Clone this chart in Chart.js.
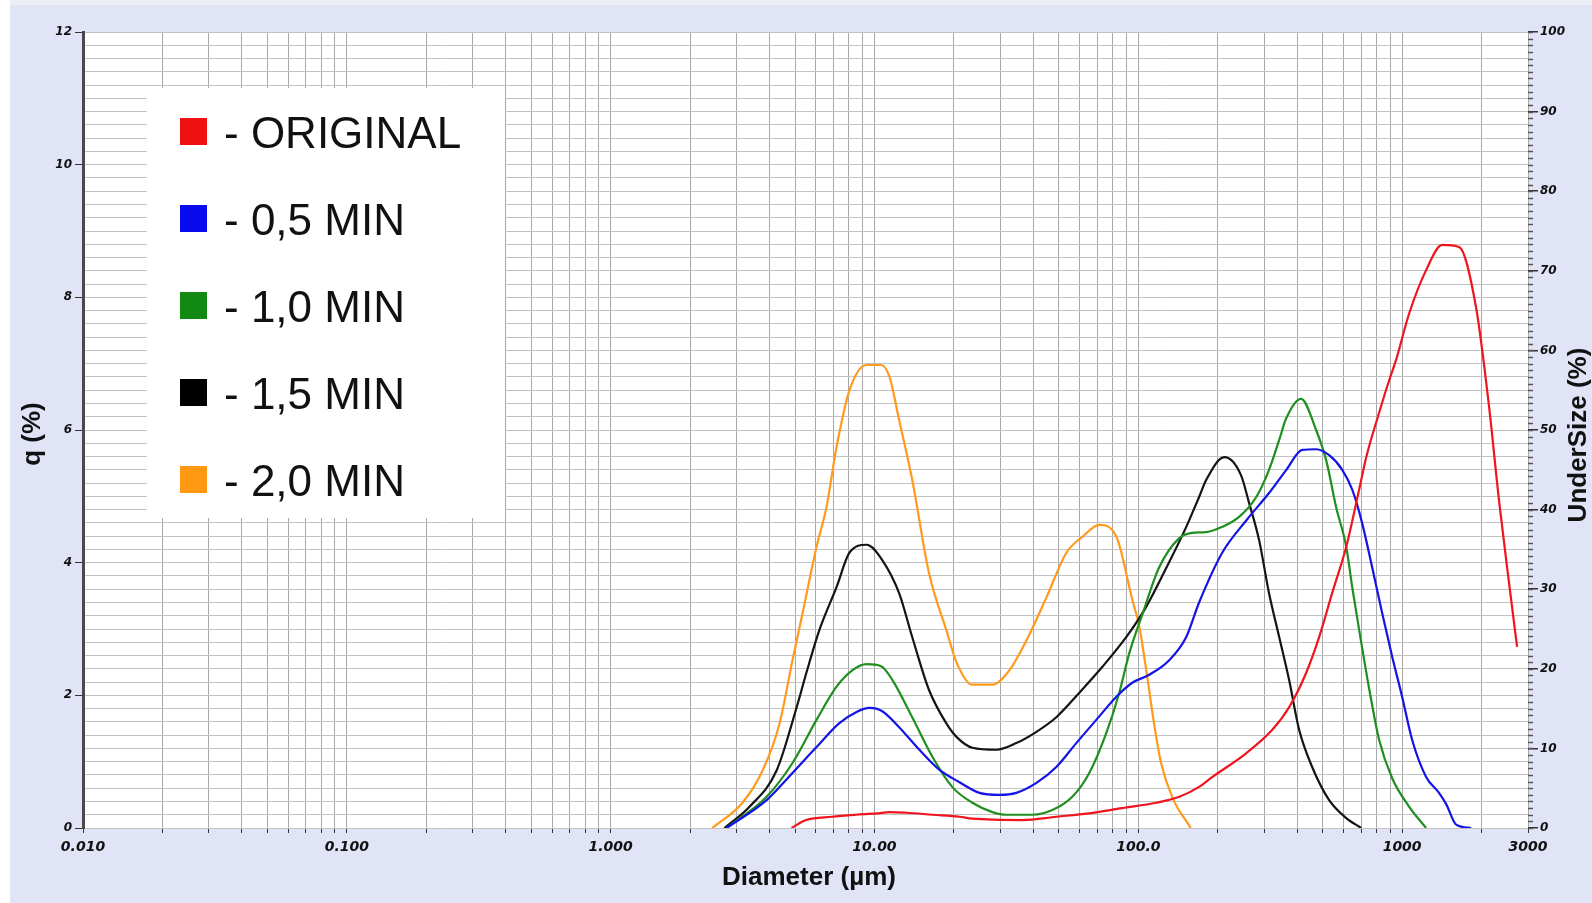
<!DOCTYPE html>
<html>
<head>
<meta charset="utf-8">
<title>Particle size distribution</title>
<script src="https://cdn.jsdelivr.net/npm/chart.js@4.4.1/dist/chart.umd.min.js"></script>
<style>
  html, body { margin: 0; padding: 0; background: #ffffff; }
  canvas { display: block; }
</style>
</head>
<body>
<canvas id="psd" width="1592" height="903"></canvas>
<script>
// Diameter (µm) / q (%) pairs for every milling time
const originalD = [4.85, 5.5, 6.9, 8.5, 10.2, 11.4, 13.2, 16.6, 21.0, 23.5, 36.4, 48.9, 65, 86.8, 117, 143, 170, 191, 257, 322, 373, 433, 485, 543, 614, 687, 731, 818, 893, 949, 1064, 1233, 1419, 1644, 1906, 2136, 2329, 2543, 2728];
const originalQ = [0, 0.12, 0.17, 0.20, 0.22, 0.24, 0.23, 0.20, 0.17, 0.14, 0.12, 0.17, 0.22, 0.30, 0.38, 0.47, 0.62, 0.77, 1.13, 1.48, 1.82, 2.34, 2.88, 3.54, 4.24, 5.10, 5.59, 6.26, 6.75, 7.06, 7.76, 8.41, 8.79, 8.76, 7.85, 6.35, 4.94, 3.69, 2.73];

const min05D = [2.75, 3.9, 4.89, 6.03, 7.36, 8.55, 9.58, 10.7, 12.4, 14.8, 17.6, 21.0, 25.0, 29.7, 34.5, 41.1, 48.9, 58.2, 69.3, 82.6, 94.9, 110, 131, 152, 170, 208, 257, 313, 364, 418, 472, 529, 593, 647, 705, 770, 840, 917, 1000, 1091, 1233, 1380, 1469, 1603, 1828];
const min05Q = [0, 0.42, 0.83, 1.22, 1.58, 1.75, 1.81, 1.76, 1.52, 1.18, 0.88, 0.69, 0.53, 0.50, 0.53, 0.68, 0.92, 1.28, 1.63, 1.98, 2.19, 2.31, 2.53, 2.88, 3.40, 4.15, 4.64, 5.05, 5.40, 5.70, 5.71, 5.62, 5.40, 5.10, 4.60, 3.93, 3.24, 2.58, 1.98, 1.33, 0.77, 0.53, 0.36, 0.05, 0];

const min10D = [2.75, 3.9, 4.89, 6.03, 7.18, 8.26, 9.33, 10.6, 11.7, 13.9, 16.6, 19.7, 23.5, 28.0, 31.6, 39.7, 47.2, 56.2, 65.2, 75.6, 84.7, 92.5, 104, 120, 143, 160, 181, 208, 241, 280, 313, 342, 364, 414, 472, 515, 562, 614, 647, 687, 750, 818, 917, 1064, 1233];
const min10Q = [0, 0.47, 0.98, 1.63, 2.13, 2.38, 2.47, 2.44, 2.23, 1.67, 1.07, 0.62, 0.38, 0.24, 0.20, 0.20, 0.27, 0.47, 0.83, 1.43, 2.04, 2.64, 3.24, 3.93, 4.37, 4.45, 4.46, 4.54, 4.69, 4.99, 5.40, 5.85, 6.18, 6.47, 6.00, 5.55, 4.84, 4.24, 3.63, 2.99, 2.10, 1.33, 0.75, 0.32, 0];

const min15D = [2.70, 3.36, 4.26, 5.07, 5.52, 6.19, 7.18, 8.04, 9.33, 10.7, 12.4, 13.9, 16.1, 18.7, 20.5, 23.5, 29.0, 34.5, 41.1, 48.9, 59.8, 73.1, 90.1, 107, 128, 152, 170, 181, 212, 245, 263, 287, 313, 342, 373, 407, 456, 529, 614, 700];
const min15Q = [0, 0.32, 0.87, 1.82, 2.34, 2.99, 3.63, 4.15, 4.27, 4.04, 3.54, 2.88, 2.08, 1.58, 1.37, 1.21, 1.18, 1.28, 1.45, 1.67, 2.04, 2.43, 2.88, 3.33, 3.93, 4.54, 4.99, 5.25, 5.59, 5.32, 4.90, 4.34, 3.54, 2.88, 2.23, 1.48, 0.92, 0.42, 0.15, 0];

const min20D = [2.43, 3.16, 3.77, 4.37, 4.89, 5.34, 6.03, 6.58, 7.18, 8.04, 9.33, 10.6, 11.4, 12.4, 13.9, 16.1, 18.7, 20.5, 23.5, 28.0, 32.5, 37.7, 44.9, 53.4, 61.4, 71.2, 82.6, 94.9, 101, 107, 115, 122, 135, 158];
const min20Q = [0, 0.38, 0.87, 1.58, 2.53, 3.24, 4.24, 4.84, 5.74, 6.60, 6.98, 6.98, 6.80, 6.15, 5.25, 3.84, 2.99, 2.49, 2.16, 2.16, 2.38, 2.83, 3.48, 4.15, 4.39, 4.57, 4.39, 3.44, 3.03, 2.40, 1.55, 0.98, 0.45, 0];

const seriesLabels = ['ORIGINAL', '0,5 MIN', '1,0 MIN', '1,5 MIN', '2,0 MIN'];
const lineColors = ['#f0141e', '#1414e6', '#1f8f1f', '#141414', '#ff9a1e'];
const legendColors = ['#ee1111', '#0a0aee', '#118811', '#000000', '#ff9911'];

// labelled diameters on the log axis
const xLabelValues = [0.01, 0.1, 1, 10, 100, 1000, 3000];
const xLabelTexts = ['0.010', '0.100', '1.000', '10.00', '100.0', '1000', '3000'];

const seriesD = [originalD, min05D, min10D, min15D, min20D];
const seriesQ = [originalQ, min05Q, min10Q, min15Q, min20Q];

// 1..9 x 10^n grid from 0.01 up to 3000
const logGrid = [];
for (let e = -2; e <= 3; e++) {
  for (let m = 1; m <= 9; m++) {
    const v = parseFloat((m * Math.pow(10, e)).toPrecision(3));
    if (v <= 3000) logGrid.push(v);
  }
}

const TICK_FONT = { family: '"DejaVu Sans", Verdana, sans-serif', weight: 'bold', style: 'italic' };

const isEven = (v) => Math.abs(v / 2 - Math.round(v / 2)) < 1e-6;

const backgroundPlugin = {
  id: 'panelBackground',
  beforeDraw(chart) {
    const { ctx, chartArea, width, height } = chart;
    ctx.save();
    ctx.fillStyle = '#ffffff';
    ctx.fillRect(0, 0, width, height);
    ctx.fillStyle = '#eceef5';
    ctx.fillRect(10, 0, width - 10, 5);
    ctx.fillStyle = '#e1e3f6';
    ctx.fillRect(10, 5, width - 10, height - 5);
    ctx.fillStyle = '#ffffff';
    ctx.fillRect(chartArea.left, chartArea.top, chartArea.right - chartArea.left, chartArea.bottom - chartArea.top);
    ctx.restore();
  }
};

const decorPlugin = {
  id: 'decor',
  afterDraw(chart) {
    const { ctx, chartArea } = chart;
    const y2 = chart.scales.y2;
    ctx.save();

    // minor ticks on the UnderSize axis
    ctx.strokeStyle = '#555555';
    ctx.lineWidth = 1.5;
    for (let i = 0; i <= 120; i++) {
      const py = Math.round(y2.getPixelForValue(i * 100 / 120)) + 0.5;
      ctx.beginPath();
      ctx.moveTo(chartArea.right, py);
      ctx.lineTo(chartArea.right + 5, py);
      ctx.stroke();
    }

    // axis titles
    ctx.fillStyle = '#111111';
    ctx.font = 'bold 26px "Liberation Sans", Arial, sans-serif';
    ctx.textAlign = 'center';
    ctx.textBaseline = 'middle';
    ctx.fillText('Diameter (µm)', 809, 878);

    ctx.save();
    ctx.translate(33, 434);
    ctx.rotate(-Math.PI / 2);
    ctx.fillText('q (%)', 0, 0);
    ctx.restore();

    ctx.save();
    ctx.translate(1579, 435);
    ctx.rotate(-Math.PI / 2);
    ctx.fillText('UnderSize (%)', 0, 0);
    ctx.restore();

    // legend panel
    ctx.fillStyle = '#ffffff';
    ctx.fillRect(147, 88, 358, 430);
    ctx.textAlign = 'left';
    ctx.textBaseline = 'alphabetic';
    ctx.font = '44px "Liberation Sans", Arial, sans-serif';
    seriesLabels.forEach((label, i) => {
      const top = 118 + i * 87;
      ctx.fillStyle = legendColors[i];
      ctx.fillRect(180, top, 27, 27);
      ctx.fillStyle = '#111111';
      ctx.fillText('- ' + label, 224, top + 30);
    });
    ctx.restore();
  }
};

const datasets = seriesLabels.map((label, i) => ({
  label: label,
  data: seriesD[i].map((d, k) => ({ x: d, y: seriesQ[i][k] })),
  borderColor: lineColors[i],
  borderWidth: 2.2,
  pointRadius: 0,
  fill: false,
  cubicInterpolationMode: 'monotone',
  yAxisID: 'y'
}));

new Chart(document.getElementById('psd').getContext('2d'), {
  type: 'line',
  data: { datasets: datasets },
  plugins: [backgroundPlugin, decorPlugin],
  options: {
    responsive: false,
    animation: false,
    layout: { padding: { top: 32, left: 0, right: 0, bottom: 0 } },
    plugins: {
      legend: { display: false },
      tooltip: { enabled: false }
    },
    scales: {
      x: {
        type: 'logarithmic',
        min: 0.01,
        max: 3000,
        afterBuildTicks: (scale) => { scale.ticks = logGrid.map(v => ({ value: v })); },
        afterFit: (scale) => { scale.height = 75; },
        ticks: {
          autoSkip: false,
          maxRotation: 0,
          minRotation: 0,
          padding: 6,
          color: '#111111',
          font: Object.assign({ size: 14 }, TICK_FONT),
          callback: (v) => {
            const i = xLabelValues.findIndex(t => Math.abs(t - v) / t < 1e-6);
            return i >= 0 ? xLabelTexts[i] : '';
          }
        },
        grid: { color: '#a8a8a8', lineWidth: 1, tickLength: 5, tickColor: '#333333' },
        border: { display: false }
      },
      y: {
        position: 'left',
        min: 0,
        max: 12,
        afterFit: (scale) => { scale.width = 83; },
        ticks: {
          stepSize: 0.2,
          autoSkip: false,
          maxTicksLimit: 100,
          padding: 3,
          color: '#111111',
          font: Object.assign({ size: 12 }, TICK_FONT),
          callback: (v) => isEven(v) ? String(Math.round(v)) : ''
        },
        grid: {
          color: '#c2c2c2',
          lineWidth: 1,
          tickLength: 8,
          tickColor: (ctx) => (ctx.tick && isEven(ctx.tick.value)) ? '#333333' : 'rgba(0,0,0,0)'
        },
        border: { color: '#4a4a4a', width: 3 }
      },
      y2: {
        position: 'right',
        display: true,
        min: 0,
        max: 100,
        afterFit: (scale) => { scale.width = 64; },
        ticks: {
          stepSize: 10,
          padding: 2,
          color: '#111111',
          font: Object.assign({ size: 12 }, TICK_FONT)
        },
        grid: { drawOnChartArea: false, tickLength: 10, tickColor: '#333333', lineWidth: 1.5 },
        border: { display: false }
      }
    }
  }
});
</script>
</body>
</html>
